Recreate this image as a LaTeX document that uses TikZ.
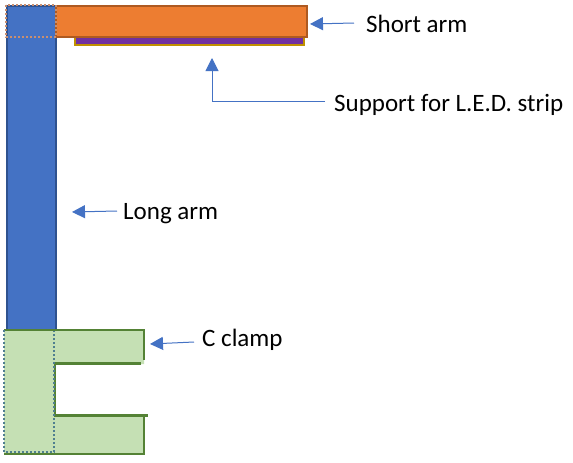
\documentclass[tikz,border=0pt]{standalone}
\usepackage{fontspec}
\setmainfont{Carlito}
\usetikzlibrary{arrows.meta}
\definecolor{bluef}{HTML}{4472C4}
\definecolor{blued}{HTML}{2F528F}
\definecolor{orangef}{HTML}{ED7D31}
\definecolor{oranged}{HTML}{AE5A21}
\definecolor{purplef}{HTML}{7030A0}
\definecolor{goldd}{HTML}{BF9000}
\definecolor{greenf}{HTML}{C5E0B4}
\definecolor{greend}{HTML}{548235}
\definecolor{dotc}{HTML}{4F7F8F}
\definecolor{dotorange}{HTML}{C98F70}
\tikzset{
  x=1pt,y=-1pt,
  lbl/.style={font=\fontsize{25}{30}\selectfont,text=black,inner sep=0pt,anchor=base west},
  pointer/.style={draw=bluef,line width=1pt,-{Triangle[length=13pt,width=13pt,fill=bluef]}},
  part/.style={line width=2.6pt}
}
\begin{document}
\begin{tikzpicture}
\useasboundingbox[fill=white] (0,0) rectangle (573,463);
% long arm
\path[part,fill=bluef,draw=blued] (7,6) rectangle (56,330);
% short arm
\path[part,fill=orangef,draw=oranged] (56,6) rectangle (307,37);
% support
\path[part,fill=purplef,draw=goldd] (75,37) rectangle (304,45);
\path[draw=oranged,line width=2.6pt] (56,37) -- (307,37);
% overlap dotted on long arm
\path[draw=dotorange,line width=2pt,dash pattern=on 2pt off 2pt] (6,5) rectangle (56,37);
% C clamp
\path[fill=greenf] (4,330) -- (144,330) -- (144,364) -- (55,364) -- (55,415) -- (144,415) -- (144,454) -- (4,454) -- cycle;
\draw[part,draw=greend] (4,330) -- (144,330) -- (144,360);
\draw[part,draw=greend] (141,363.5) -- (55,363.5) -- (55,415.5) -- (148,415.5);
\draw[part,draw=greend] (144,415.5) -- (144,454) -- (4,454);
\draw[line width=2pt,draw=dotc,dash pattern=on 2pt off 2pt] (4,330) -- (4,452) -- (54,452) -- (54,331);
% labels
\node[lbl] (short) at (366,32) {Short arm};
\node[lbl] (support) at (334,111) {Support for L.E.D. strip};
\node[lbl] (long) at (123,219) {Long arm};
\node[lbl] (clamp) at (202,346) {C clamp};
% connector ends
\coordinate (shortend) at (310,24);
\coordinate (supportend) at (212,58);
\coordinate (longend) at (72,212);
\coordinate (clampend) at (150,344);
\coordinate (bend) at (212,101);
% connectors
\draw[pointer] ([xshift=-12pt,yshift=9pt]short.base west) -- (shortend);
\draw[pointer] ([xshift=-9pt,yshift=10pt]support.base west) -- (bend) -- (supportend);
\draw[pointer] ([xshift=-6pt,yshift=8pt]long.base west) -- (longend);
\draw[pointer] ([xshift=-8pt,yshift=4pt]clamp.base west) -- (clampend);
\end{tikzpicture}
\end{document}
